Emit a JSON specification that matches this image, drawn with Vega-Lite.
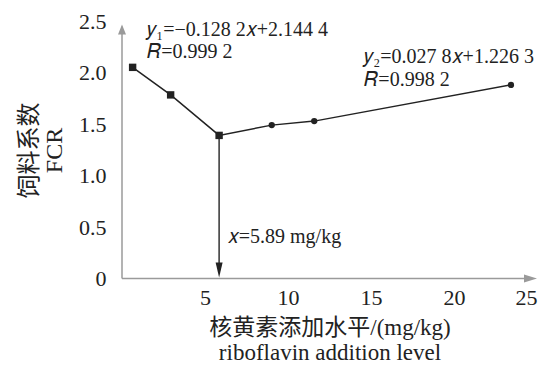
{
  "$schema": "https://vega.github.io/schema/vega-lite/v6.json",
  "autosize": "none",
  "width": 415,
  "height": 257,
  "padding": {"left": 122, "top": 21.5, "right": 17, "bottom": 97.5},
  "background": "white",
  "config": {"view": {"stroke": null}, "font": "Liberation Serif, Noto Sans CJK SC, serif"},
  "datasets": {
    "pts": [
      {"level": 0.64, "fcr": 2.054, "grp": "y1"},
      {"level": 2.93, "fcr": 1.786, "grp": "y1"},
      {"level": 5.85, "fcr": 1.392, "grp": "y1"},
      {"level": 9.02, "fcr": 1.492, "grp": "y2"},
      {"level": 11.58, "fcr": 1.531, "grp": "y2"},
      {"level": 23.43, "fcr": 1.883, "grp": "y2"}
    ],
    "notes": [
      {"label": "𝑦₁=−0.128 2𝑥+2.144 4", "level": 1.52, "fcr": 2.362},
      {"label": "𝑅=0.999 2", "level": 1.52, "fcr": 2.148},
      {"label": "𝑦₂=0.027 8𝑥+1.226 3", "level": 14.6, "fcr": 2.099},
      {"label": "𝑅=0.998 2", "level": 14.6, "fcr": 1.873},
      {"label": "𝑥=5.89 mg/kg", "level": 6.37, "fcr": 0.342}
    ]
  },
  "encoding": {
    "x": {"type": "quantitative", "scale": {"domain": [0, 25], "nice": false, "zero": true}},
    "y": {"type": "quantitative", "scale": {"domain": [0, 2.5], "nice": false, "zero": true}}
  },
  "layer": [
    {
      "data": {"values": [{"level": 0, "lo": 0, "hi": 2.45}]},
      "mark": {"type": "rule", "color": "#9a9a9a", "strokeWidth": 1.5},
      "encoding": {
        "x": {"field": "level", "type": "quantitative",
          "axis": {
            "orient": "bottom", "domain": false, "ticks": false, "grid": false,
            "values": [5, 10, 15, 20, 25],
            "labelFont": "Liberation Serif, Times New Roman, serif", "labelFontSize": 22, "labelColor": "#222",
            "labelPadding": 9,
            "title": ["核黄素添加水平/(mg/kg)", "riboflavin addition level"],
            "titleFont": "Liberation Serif, Noto Sans CJK SC, serif", "titleFontSize": 23,
            "titleFontWeight": "normal", "titleColor": "#222", "titleLineHeight": 25,
            "titlePadding": 8
          }
        },
        "y": {"field": "lo", "type": "quantitative",
          "axis": {
            "orient": "left", "domain": false, "ticks": false, "grid": false,
            "values": [0, 0.5, 1, 1.5, 2, 2.5],
            "labelExpr": "datum.value == 0 ? '0' : format(datum.value, '.1f')",
            "labelFont": "Liberation Serif, Times New Roman, serif", "labelFontSize": 22, "labelColor": "#222",
            "labelPadding": 16,
            "title": ["饲料系数", "FCR"],
            "titleFont": "Liberation Serif, Noto Sans CJK SC, serif", "titleFontSize": 24,
            "titleFontWeight": "normal", "titleColor": "#222", "titleLineHeight": 25,
            "titlePadding": 12
          }
        },
        "y2": {"field": "hi"}
      }
    },
    {
      "data": {"values": [{"lo": 0, "hi": 24.4, "fcr": 0}]},
      "mark": {"type": "rule", "color": "#9a9a9a", "strokeWidth": 1.5},
      "encoding": {
        "x": {"field": "lo", "type": "quantitative"},
        "x2": {"field": "hi"},
        "y": {"field": "fcr", "type": "quantitative"}
      }
    },
    {
      "data": {"values": [{"level": 0, "fcr": 2.47}]},
      "mark": {"type": "point", "shape": "M0,0L0.4,1L-0.4,1Z", "size": 400, "filled": true, "color": "#9a9a9a", "opacity": 1},
      "encoding": {
        "x": {"field": "level", "type": "quantitative"},
        "y": {"field": "fcr", "type": "quantitative"}
      }
    },
    {
      "data": {"values": [{"level": 25, "fcr": 0}]},
      "mark": {"type": "point", "shape": "M0,0L-1.3,-0.4L-1.3,0.4Z", "size": 400, "filled": true, "color": "#9a9a9a", "opacity": 1},
      "encoding": {
        "x": {"field": "level", "type": "quantitative"},
        "y": {"field": "fcr", "type": "quantitative"}
      }
    },
    {
      "data": {"values": [{"level": 5.85, "top": 1.392, "bottom": 0.08}]},
      "mark": {"type": "rule", "color": "#333", "strokeWidth": 1.5},
      "encoding": {
        "x": {"field": "level", "type": "quantitative"},
        "y": {"field": "top", "type": "quantitative"},
        "y2": {"field": "bottom"}
      }
    },
    {
      "data": {"values": [{"level": 5.85, "fcr": 0.01}]},
      "mark": {"type": "point", "shape": "M0,0L-0.35,-1.5L0.35,-1.5Z", "size": 400, "filled": true, "color": "#222", "opacity": 1},
      "encoding": {
        "x": {"field": "level", "type": "quantitative"},
        "y": {"field": "fcr", "type": "quantitative"}
      }
    },
    {
      "data": {"name": "pts"},
      "mark": {"type": "line", "color": "#222", "strokeWidth": 1.5},
      "encoding": {
        "x": {"field": "level", "type": "quantitative"},
        "y": {"field": "fcr", "type": "quantitative"}
      }
    },
    {
      "data": {"name": "pts"},
      "mark": {"type": "point", "filled": true, "color": "#222", "opacity": 1},
      "encoding": {
        "x": {"field": "level", "type": "quantitative"},
        "y": {"field": "fcr", "type": "quantitative"},
        "shape": {"field": "grp", "type": "nominal", "scale": {"domain": ["y1", "y2"], "range": ["square", "circle"]}, "legend": null},
        "size": {"field": "grp", "type": "nominal", "scale": {"domain": ["y1", "y2"], "range": [55, 40]}, "legend": null}
      }
    },
    {
      "data": {"name": "notes"},
      "mark": {"type": "text", "align": "left", "baseline": "alphabetic", "font": "Liberation Serif, Times New Roman, serif", "fontSize": 20, "color": "#222"},
      "encoding": {
        "x": {"field": "level", "type": "quantitative"},
        "y": {"field": "fcr", "type": "quantitative"},
        "text": {"field": "label"}
      }
    }
  ]
}
